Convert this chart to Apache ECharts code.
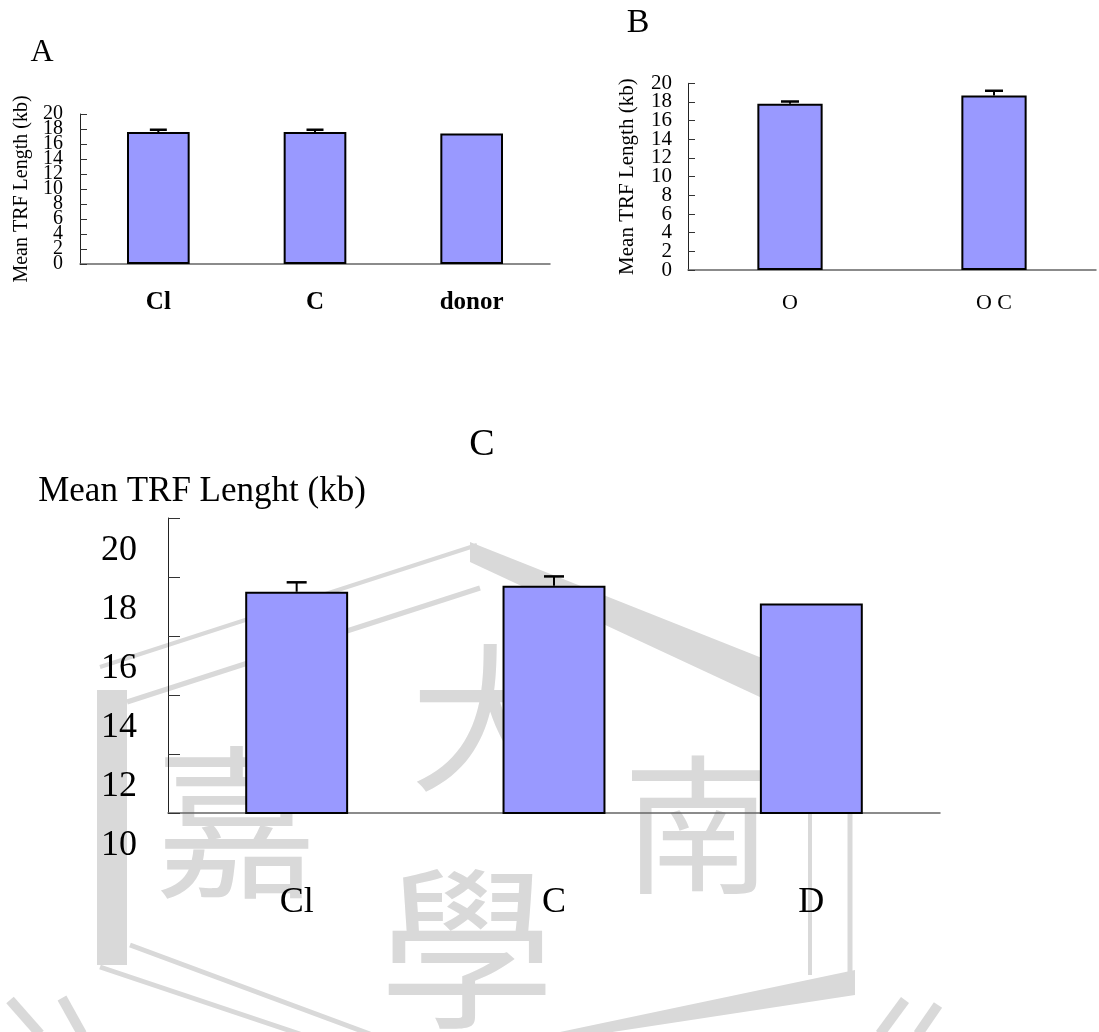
<!DOCTYPE html>
<html><head><meta charset="utf-8">
<script src="https://cdn.jsdelivr.net/npm/echarts@6/dist/echarts.min.js"></script>
<style>html,body{margin:0;padding:0;background:#fff}#c{width:1099px;height:1032px}</style>
</head><body><div id="c"></div>
<script>
// Panel A
const catsA = ['Cl', 'C', 'donor'];
const valsA = [17.6, 17.6, 17.4];
const errA = [0.3, 0.3, 0];
// Panel B
const catsB = ['O', 'O C'];
const valsB = [17.8, 18.7];
const errB = [0.25, 0.5];
// Panel C
const catsC = ['Cl', 'C', 'D'];
const valsC = [17.5, 17.7, 17.1];
const errC = [0.32, 0.32, 0];

const SERIF = 'Liberation Serif, Times New Roman, serif';
const WM = '#d9d9d9';

function errItem(capW) {
  return function (params, api) {
    const i = api.value(0), v = api.value(1), e = api.value(2);
    if (!e) return null;
    const p0 = api.coord([i, v]);
    const p1 = api.coord([i, v + e]);
    return {
      type: 'group',
      children: [
        { type: 'line', shape: { x1: p0[0], y1: p0[1], x2: p1[0], y2: p1[1] }, style: { stroke: '#000', lineWidth: 2 } },
        { type: 'line', shape: { x1: p1[0] - capW / 2, y1: p1[1], x2: p1[0] + capW / 2, y2: p1[1] }, style: { stroke: '#000', lineWidth: 2.5 } }
      ]
    };
  };
}
function errData(vals, errs) { return vals.map((v, i) => [i, v, errs[i]]); }

function xAx(idx, cats, tickLen, fs, margin, weight) {
  return {
    type: 'category', gridIndex: idx, data: cats, boundaryGap: true,
    axisLine: { lineStyle: { color: '#666', width: 1.5 } },
    axisTick: { inside: true, length: tickLen, lineStyle: { color: '#555' } },
    axisLabel: { color: '#000', fontFamily: SERIF, fontSize: fs, margin: margin, fontWeight: weight || 'normal', interval: 0 }
  };
}

const barStyle = { color: '#9999FF', borderColor: '#000', borderWidth: 2 };

const wmLines = [
  [[100, 667], [477, 545]],
  [[127, 702], [480, 588]],
  [[112, 690], [112, 965]],
  [[130, 945], [370, 1034]],
  [[100, 967], [300, 1034]],
  [[810, 813], [810, 975]],
  [[850, 813], [850, 975]],
  [[880, 1034], [905, 1000]],
  [[918, 1034], [938, 1005]],
  [[10, 1000], [40, 1034]],
  [[62, 998], [82, 1034]]
];
const wmWidths = [4, 5, 30, 5, 5, 4, 5, 10, 10, 10, 10];

const graphics = [];
wmLines.forEach((pts, k) => graphics.push({
  type: 'polyline', z: -1, shape: { points: pts }, style: { stroke: WM, lineWidth: wmWidths[k], fill: null }
}));
graphics.push({ type: 'polygon', z: -1, shape: { points: [[470, 542], [762, 658], [762, 698], [470, 562]] }, style: { fill: WM } });
graphics.push({ type: 'polygon', z: -1, shape: { points: [[855, 970], [855, 995], [560, 1040], [560, 1032]] }, style: { fill: WM } });
[['嘉', 237, 822, 165], ['大', 490, 718, 160], ['南', 698, 825, 150], ['學', 467, 948, 175]].forEach(t => graphics.push({
  type: 'text', z: -1, x: t[1], y: t[2],
  style: { text: t[0], fill: WM, font: 'normal ' + t[3] + 'px "Noto Sans CJK TC"', textAlign: 'center', textVerticalAlign: 'middle' }
}));
graphics.push({ type: 'text', x: 42, y: 53, style: { text: 'A', fill: '#000', font: '32px ' + SERIF, textAlign: 'center', textVerticalAlign: 'middle' } });
graphics.push({ type: 'text', x: 638, y: 23, style: { text: 'B', fill: '#000', font: '34px ' + SERIF, textAlign: 'center', textVerticalAlign: 'middle' } });
graphics.push({ type: 'text', x: 482, y: 445, style: { text: 'C', fill: '#000', font: '38px ' + SERIF, textAlign: 'center', textVerticalAlign: 'middle' } });

function yLabel(fs, margin, extra) {
  return Object.assign({ color: '#000', fontFamily: SERIF, fontSize: fs, margin: margin, hideOverlap: false }, extra || {});
}
// secondary axis carrying only the end labels (min / max) of a dense 0-20 axis
function endLabelAxis(grid, fs, margin) {
  return {
    type: 'value', gridIndex: grid, min: 0, max: 20, interval: 2, position: 'left', offset: 0,
    axisLine: { show: false }, axisTick: { show: false }, splitLine: { show: false },
    axisLabel: yLabel(fs, margin, { showMinLabel: true, showMaxLabel: true,
      formatter: v => (v === 0 || v === 20) ? String(v) : '' })
  };
}

const option = {
  backgroundColor: '#fff',
  animation: false,
  graphic: graphics,
  grid: [
    { left: 80, top: 114, width: 470, height: 150 },
    { left: 688, top: 83.3, width: 408, height: 186.7 },
    { left: 168, top: 518, width: 772, height: 295 }
  ],
  xAxis: [
    xAx(0, catsA, 8, 25, 26, 'bold'),
    xAx(1, catsB, 7, 22, 22),
    xAx(2, catsC, 12, 36, 72)
  ],
  yAxis: [
    {
      type: 'value', gridIndex: 0, min: 0, max: 20, interval: 2, position: 'left',
      name: 'Mean TRF Length (kb)', nameLocation: 'middle', nameRotate: 90, nameGap: 48,
      nameTextStyle: { fontFamily: SERIF, fontSize: 20, color: '#000' },
      axisLine: { show: true, lineStyle: { color: '#222' } },
      axisTick: { show: true, inside: true, length: 7, lineStyle: { color: '#333' } },
      splitLine: { show: false },
      axisLabel: yLabel(20, 17, { formatter: v => (v === 0 || v === 20) ? '' : String(v) })
    },
    {
      type: 'value', gridIndex: 1, min: 0, max: 20, interval: 2, position: 'left',
      name: 'Mean TRF Length (kb)', nameLocation: 'middle', nameRotate: 90, nameGap: 50,
      nameTextStyle: { fontFamily: SERIF, fontSize: 21, color: '#000' },
      axisLine: { show: true, lineStyle: { color: '#222' } },
      axisTick: { show: true, inside: true, length: 7, lineStyle: { color: '#333' } },
      splitLine: { show: false },
      axisLabel: yLabel(21, 16, { formatter: v => (v === 0 || v === 20) ? '' : String(v) })
    },
    {
      type: 'value', gridIndex: 2, min: 10, max: 20, interval: 2,
      name: 'Mean TRF Lenght (kb)', nameLocation: 'end', nameGap: 9,
      nameTextStyle: { fontFamily: SERIF, fontSize: 35, color: '#000', align: 'center', padding: [0, 0, 0, 68] },
      axisLine: { show: true, lineStyle: { color: '#222' } },
      axisTick: { show: true, inside: true, length: 12, lineStyle: { color: '#333' } },
      splitLine: { show: false },
      axisLabel: yLabel(36, 31, { showMinLabel: true, showMaxLabel: true, verticalAlign: 'top', lineHeight: 22, formatter: v => '\n' + v })
    },
    endLabelAxis(0, 20, 17),
    endLabelAxis(1, 21, 16)
  ],
  series: [
    { type: 'bar', xAxisIndex: 0, yAxisIndex: 0, data: valsA, barCategoryGap: '60%', itemStyle: barStyle, z: 2 },
    { type: 'bar', xAxisIndex: 1, yAxisIndex: 1, data: valsB, barCategoryGap: '68%', itemStyle: barStyle, z: 2 },
    { type: 'bar', xAxisIndex: 2, yAxisIndex: 2, data: valsC, barCategoryGap: '60%', itemStyle: barStyle, z: 2 },
    { type: 'custom', xAxisIndex: 0, yAxisIndex: 0, data: errData(valsA, errA), renderItem: errItem(17), z: 3 },
    { type: 'custom', xAxisIndex: 1, yAxisIndex: 1, data: errData(valsB, errB), renderItem: errItem(18), z: 3 },
    { type: 'custom', xAxisIndex: 2, yAxisIndex: 2, data: errData(valsC, errC), renderItem: errItem(20), z: 3 }
  ]
};
const chart = echarts.init(document.getElementById('c'), null, { renderer: 'canvas' });
chart.setOption(option);
</script>
</body></html>
